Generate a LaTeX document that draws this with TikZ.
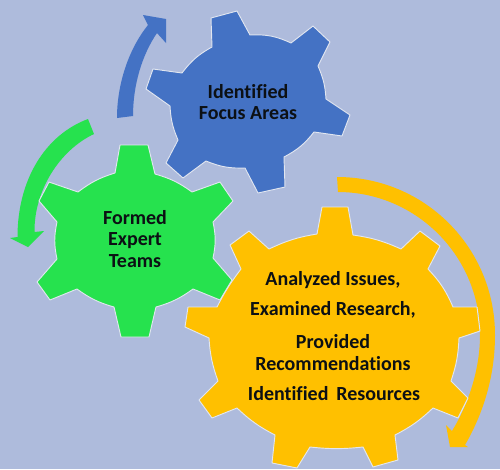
\documentclass[tikz,border=0pt]{standalone}
\usepackage{fontspec}
\setmainfont{Carlito}[Ligatures=NoCommon]
\definecolor{bgc}{RGB}{174,187,220}
\definecolor{gblue}{RGB}{68,114,196}
\definecolor{ggreen}{RGB}{38,226,78}
\definecolor{gorange}{RGB}{255,192,0}
\definecolor{rimc}{RGB}{225,230,240}
\definecolor{txtc}{RGB}{12,16,20}
\tikzset{
  gear/.style={draw=rimc,line width=0.7pt,line join=round},
  lbl/.style={font=\bfseries\fontsize{15}{16.2}\selectfont,text=txtc,inner sep=0pt,align=center}
}
\begin{document}
\begin{tikzpicture}[x=0.75pt,y=-0.75pt]
\useasboundingbox (0,0) rectangle (500,469);
\fill[bgc] (0,0) rectangle (500,469);
% circular arrows
\fill[gblue] (117,118) .. controls (117,85) and (128,50) .. (148,25) -- (143,15) -- (166,19) -- (166,43) -- (157,33)
  .. controls (142,55) and (133,85) .. (133,116) -- cycle;
\fill[ggreen] (88,119) .. controls (45,135) and (17.5,180) .. (17.5,237) -- (10,238) -- (28,247) -- (44,231) -- (34.5,232)
  .. controls (34,190) and (60,150) .. (94,134) -- cycle;
\fill[gorange] (337,177) .. controls (425,177) and (495,248) .. (495,335)
  .. controls (495,375) and (484,412) .. (465,445)
  -- (468,447) -- (450,447) -- (446,425) -- (452,431)
  .. controls (468,405) and (480,370) .. (480,335)
  .. controls (480,255) and (415,192) .. (338,192) -- cycle;
% blue gear
\path[gear,fill=gblue] (211,18) -- (237,11) -- (250,35) to[bend left=14] (291,43)
  -- (313,26) -- (330,42) -- (318,66) to[bend left=10] (326,99)
  -- (350,115) -- (342,136) -- (314,132) to[bend left=12] (284,157)
  -- (285,187) -- (258,193) -- (245,168) to[bend left=12] (206,161)
  -- (183,178) -- (166,163) -- (178,140) to[bend left=10] (170,106)
  -- (146,89) -- (153,69) -- (182,73) to[bend left=12] (212,47) -- cycle;
% green gear
\path[gear,fill=ggreen] (120,145) -- (148,145) -- (155,174) to[bend left=10] (192,192)
  -- (220,182) -- (233,201) -- (213,222) to[bend left=12] (213,258)
  -- (232,280) -- (220,300) -- (193,289) to[bend left=10] (156,307)
  -- (149,337) -- (121,337) -- (114,307) to[bend left=10] (77,289)
  -- (50,300) -- (37,282) -- (57,259) to[bend left=12] (57,222)
  -- (39,201) -- (49,182) -- (78,192) to[bend left=10] (115,173) -- cycle;
% orange gear
\path[gear,fill=gorange] (322,207) -- (348,207) -- (353,235) to[bend left=8] (401,249)
  -- (420,231) -- (440,246) -- (428,269) to[bend left=10] (453,307)
  -- (477,307) -- (480,331) -- (459,338) to[bend left=8] (451,381)
  -- (468,398) -- (458,418) -- (433,408) to[bend left=8] (395,435)
  -- (398,460) -- (373,467) -- (363,447) to[bend left=6] (310,447)
  -- (297,468) -- (272,463) -- (275,435) to[bend left=8] (237,408)
  -- (212,418) -- (199,400) -- (218,381) to[bend left=8] (209,338)
  -- (185,327) -- (188,307) -- (217,307) to[bend left=5] (241,269)
  -- (230,245) -- (249,231) -- (269,249) to[bend left=8] (317,234) -- cycle;
% labels
\node[lbl] (focus) at (248,102) {Identified\\Focus Areas};
\node[lbl] (teams) at (135,239) {Formed\\Expert\\Teams};
\node[lbl] (l1) at (333,280) {Analyzed Issues,};
\node[lbl] (l2) at (333,310) {Examined Research,};
\node[lbl] (l3) at (333,342) {Provided};
\node[lbl] (l4) at (333,364) {Recommendations};
\node[lbl] (l5) at (334,394) {Identified\, Resources};
\end{tikzpicture}
\end{document}
